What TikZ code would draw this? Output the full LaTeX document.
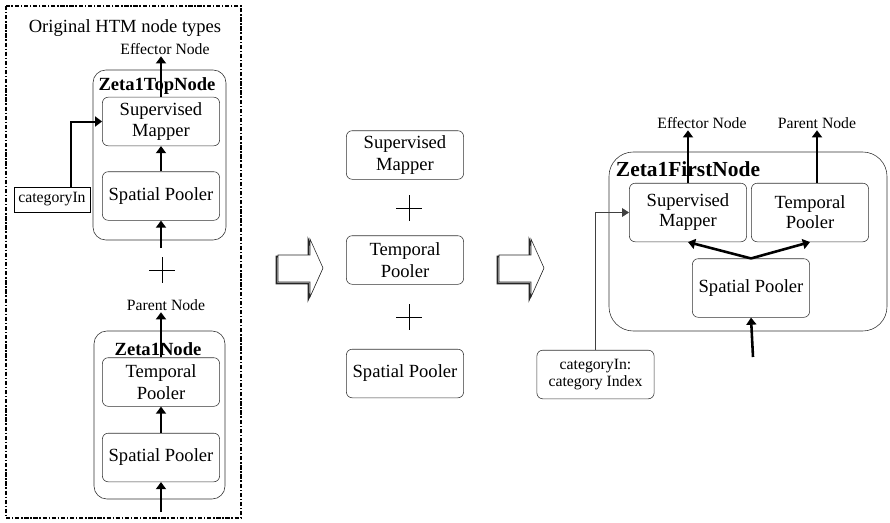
\documentclass[tikz,border=0pt]{standalone}
\usepackage{fontspec}
\setmainfont{Liberation Serif}
\usetikzlibrary{fit,positioning,arrows.meta}

\newcommand\plusat[2]{\draw[thin] (#1-13,#2) -- (#1+13,#2) (#1,#2-13) -- (#1,#2+13);}
\newcommand\bigarrow[1]{%
	\draw[line width=1.2pt,draw=black!85,shift={(#1-1.5,1.5)}] (0,255) -- (32,255) -- (32,239) -- (45,268) -- (32,297) -- (32,282) -- (0,282) -- cycle;
	\draw[fill=white,draw=black!85,shift={(#1,0)}] (0,255) -- (32,255) -- (32,239) -- (45,268) -- (32,297) -- (32,282) -- (0,282) -- cycle;}

\begin{document}
\begin{tikzpicture}[x=0.7pt,y=-0.7pt,
		unit/.style={draw=black!80,rounded corners=4pt,minimum width=82pt,minimum height=34pt,
			inner sep=1pt,align=center,font=\fontsize{13}{15}\selectfont},
		tall/.style={unit,minimum height=41pt,font=\fontsize{13}{14}\selectfont},
		wrap/.style={draw=black!80,inner sep=0pt,rounded corners=#1},
		small/.style={inner sep=1pt,align=center,font=\fontsize{11}{12}\selectfont},
		title/.style={font=\fontsize{13}{15}\selectfont},
		bold/.style={font=\fontsize{#1}{#1}\selectfont\bfseries},
		arr/.style={line width=1.8pt,-{Triangle[length=5pt,width=7pt]}},
		feed/.style={line width=1.2pt,black!75,-{Triangle[length=5pt,width=6pt]}}]
	\useasboundingbox (0,0) rectangle (890,523);

	% original node types
	\draw[line width=1pt,dash pattern=on 3pt off 1.2pt on 1pt off 1.2pt] (6,6) rectangle (241,518);
	\node[title] (orig) at (125,28) {Original HTM node types};
	\node[small] (eff1) at (165,49) {Effector Node};
	\node[unit] (topmap) at (161,121.5) {Supervised\\Mapper};
	\node[unit] (topsp) at (161,196) {Spatial Pooler};
	\node[wrap=9pt,fit={(93,70) (226,240)}] (topnode) {};
	\node[bold=13] (toplbl) at (157,86) {Zeta1TopNode};
	\node[small,draw,minimum width=53pt,minimum height=17.5pt] (cat1) at (52,199.5) {categoryIn};
	\coordinate (in1) at (161,248);
	\draw[arr] (topsp) -- (topmap);
	\draw[arr] (topmap.north) -- (topmap.north |- eff1.south);
	\draw[arr] (in1) -- (topsp.south);
	\draw[arr,line width=1.4pt] ([xshift=13pt]cat1.north) |- (topmap.west);
	\plusat{162}{270}
	\node[small] (par1) at (166,305) {Parent Node};
	\node[unit] (ztp) at (161,382) {Temporal\\Pooler};
	\node[unit] (zsp) at (161,457.5) {Spatial Pooler};
	\node[wrap=9pt,fit={(94,331) (225,499)}] (znode) {};
	\node[bold=13] (zlbl) at (158,349) {Zeta1Node};
	\coordinate (in2) at (161,512);
	\draw[arr] (zsp) -- (ztp);
	\draw[arr] (ztp.north) -- (ztp.north |- par1.south);
	\draw[arr] (in2) -- (zsp.south);

	% merged units
	\bigarrow{278}
	\node[unit] (msm) at (405,155) {Supervised\\Mapper};
	\plusat{409}{208}
	\node[unit] (mtp) at (405,260) {Temporal\\Pooler};
	\plusat{409}{317}
	\node[unit] (msp) at (405,373.5) {Spatial Pooler};
	\bigarrow{499}

	% new node
	\node[small] (eff2) at (702,123) {Effector Node};
	\node[small] (par2) at (817,123) {Parent Node};
	\node[tall] (fmap) at (688,212.5) {Supervised\\Mapper};
	\node[tall] (ftp) at (810,212.5) {Temporal\\Pooler};
	\node[tall] (fsp) at (751,288) {Spatial Pooler};
	\node[wrap=17pt,fit={(609,152) (887,331)}] (first) {};
	\node[bold=15] (flbl) at (688,169) {Zeta1FirstNode};
	\node[unit,small,minimum height=34pt] (cat2) at (595.5,374.5) {categoryIn:\\category Index};
	\coordinate (in3) at (753,357);
	\draw[arr] (fsp.north) -- (fmap.south);
	\draw[arr] (fsp.north) -- (ftp.south);
	\draw[arr] (fmap.north) -- (fmap.north |- eff2.south);
	\draw[arr] (ftp.north -| par2) -- (par2.south);
	\draw[arr] (in3) -- (fsp.south);
	\draw[feed] (cat2.north) |- (fmap.west);
\end{tikzpicture}
\end{document}
